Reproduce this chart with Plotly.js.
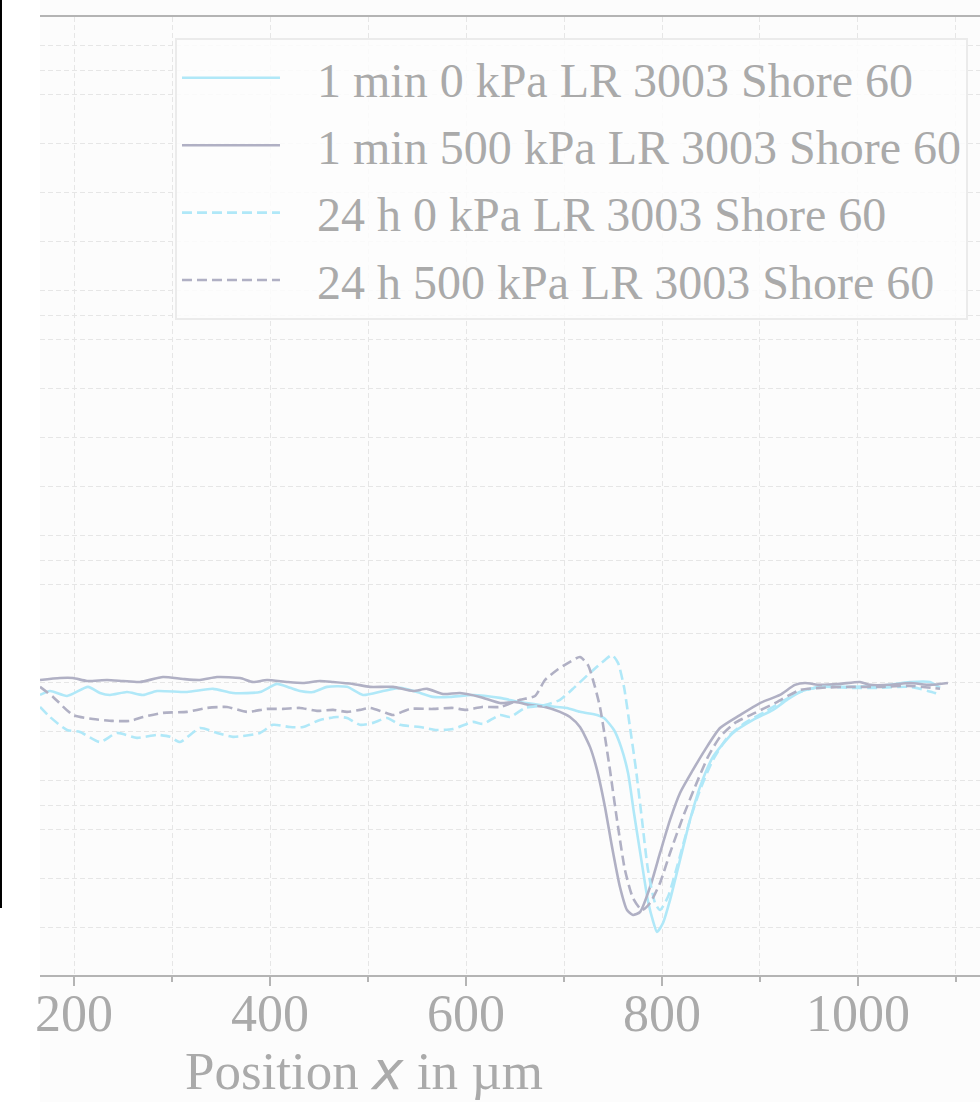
<!DOCTYPE html>
<html>
<head>
<meta charset="utf-8">
<script src="https://cdn.plot.ly/plotly-3.0.1.min.js"></script>
<style>html,body{margin:0;padding:0;background:#fff;}#chart{width:980px;height:1102px;}</style>
</head>
<body>
<div id="chart"></div>
<script>
// Series names
const seriesNames = [
  "1 min 0 kPa LR 3003 Shore 60",
  "1 min 500 kPa LR 3003 Shore 60",
  "24 h 0 kPa LR 3003 Shore 60",
  "24 h 500 kPa LR 3003 Shore 60"
];
const xTickLabels = ["200", "400", "600", "800", "1000"];

// 1 min 0 kPa (solid light blue)
const x1min0 = [165.3,175.5,192.9,214.3,226.5,236.7,254.1,270.4,284.7,315.3,341.8,362.2,389.8,407.1,420.4,430.6,443.9,458.2,478.6,494.9,515.3,532.7,550,566.3,583.7,607.1,634.7,655.1,675.5,692.9,703.1,716.3,733.7,740.8,751,758.2,765.3,771.4,778.6,785.7,790.8,794.9,801,808.2,818.4,828.6,838.8,852,872.4,892.9,913.3,927.6,940.8,961.2,991.8,1022.4,1053.1,1073.5,1083.7];
const y1min0 = [-0.49,-0.33,-0.53,-0.16,-0.41,-0.49,-0.37,-0.49,-0.33,-0.37,-0.24,-0.41,-0.37,-0.04,-0.20,-0.33,-0.37,-0.16,-0.16,-0.49,-0.33,-0.20,-0.37,-0.57,-0.57,-0.49,-0.61,-0.78,-0.90,-0.98,-1.02,-1.18,-1.31,-1.43,-1.92,-2.61,-3.67,-5.31,-7.14,-8.90,-9.71,-10.16,-9.80,-8.86,-7.22,-5.59,-4.24,-3.02,-2.04,-1.51,-1.10,-0.69,-0.37,-0.16,-0.16,-0.12,0.04,0.04,-0.20];

// 1 min 500 kPa (solid grey-blue)
const x1min500 = [165.3,185.7,199,213.3,233.7,250,267.3,290.8,311.2,328.6,345.9,369.4,382.7,396.9,417.3,433.7,451,464.3,484.7,502,525.5,545.9,560.2,576.5,593.9,614.3,634.7,650,665.3,680.6,695.9,706.1,716.3,726.5,733.7,741.8,749,757.1,764.3,770.4,777.6,787.8,798,808.2,818.4,831.6,843.9,859.2,879.6,900,920.4,935.7,945.9,961.2,981.6,1002,1012.2,1032.7,1053.1,1073.5,1091.8];
const y1min500 = [0.12,0.20,0.20,0.08,0.12,0.08,0.04,0.24,0.16,0.12,0.24,0.20,0.04,0.12,0.04,0,0.08,0.04,-0.04,-0.16,-0.16,-0.33,-0.24,-0.45,-0.41,-0.57,-0.82,-0.78,-0.90,-0.98,-1.18,-1.39,-1.80,-2.61,-3.55,-5.06,-6.69,-8.33,-9.27,-9.47,-9.35,-8.33,-6.94,-5.59,-4.49,-3.55,-2.73,-1.84,-1.31,-0.82,-0.49,-0.08,0,-0.08,-0.04,0.04,-0.08,-0.08,0,-0.08,0];

// 24 h 0 kPa (dashed light blue)
const x24h0 = [165.3,175.5,192.9,206.1,226.5,243.9,264.3,284.7,298,308.2,328.6,345.9,362.2,389.8,403.1,420.4,433.7,451,468.4,478.6,491.8,505.1,519.4,532.7,553.1,570.4,586.7,607.1,617.3,634.7,644.9,660.2,680.6,695.9,711.2,726.5,741.8,749,755.1,761.2,767.3,773.5,779.6,785.7,792.9,798,806.1,815.3,828.6,838.8,852,867.3,884.7,905.1,925.5,940.8,961.2,991.8,1022.4,1053.1,1078.6,1083.7];
const y24h0 = [-0.98,-1.39,-1.92,-2.00,-2.41,-2.04,-2.24,-2.12,-2.20,-2.41,-1.84,-2.04,-2.20,-2.04,-1.71,-1.80,-1.80,-1.51,-1.39,-1.43,-1.71,-1.63,-1.43,-1.71,-1.80,-1.92,-1.88,-1.59,-1.67,-1.31,-1.39,-1.02,-0.90,-0.69,-0.16,0.41,0.94,1.14,0.82,-0.16,-1.80,-3.55,-5.59,-7.63,-8.98,-9.27,-8.73,-7.51,-5.59,-4.37,-3.14,-2.20,-1.63,-1.18,-0.69,-0.37,-0.16,-0.20,-0.20,-0.16,-0.41,-0.49];

// 24 h 500 kPa (dashed grey-blue)
const x24h500 = [165.3,178.6,199,219.4,239.8,257.1,270.4,290.8,315.3,335.7,356.1,376.5,396.9,413.3,430.6,448,464.3,478.6,491.8,502,515.3,525.5,542.9,566.3,586.7,600,616.3,634.7,655.1,670.4,680.6,692.9,706.1,716.3,724.5,731.6,736.7,741.8,746.9,754.1,762.2,770.4,779.6,787.8,798,808.2,821.4,833.7,846.9,859.2,874.5,894.9,915.3,940.8,961.2,991.8,1022.4,1053.1,1083.7];
const y24h500 = [-0.16,-0.57,-1.31,-1.47,-1.55,-1.55,-1.39,-1.22,-1.18,-1.02,-0.98,-1.18,-1.06,-1.06,-1.02,-1.14,-1.10,-1.18,-1.10,-1.02,-1.18,-1.31,-1.06,-1.06,-1.02,-1.10,-0.98,-0.98,-0.69,-0.53,0.12,0.53,0.86,1.06,0.73,-0.16,-0.98,-2.20,-3.55,-5.59,-7.63,-8.78,-9.27,-8.98,-8.16,-6.94,-5.47,-4.24,-3.02,-2.20,-1.63,-1.22,-0.82,-0.29,-0.20,-0.16,-0.16,-0.12,-0.24];

const cBlue = "#b0e8f8";
const cGrey = "#b0b0c4";
const txt = "#aaaaaa";
const grid = "#e6e6e6";
const serif = "Liberation Serif, Times New Roman, serif";
const pad = "\u2002\u2006";

function tr(x, y, name, color, dash, grp) {
  return {
    x: x, y: y, name: pad + name, type: "scatter", mode: "lines",
    legendgroup: grp,
    line: {color: color, width: 2.6, dash: dash, shape: "spline", smoothing: 0.6}
  };
}

const data = [
  tr(x1min0, y1min0, seriesNames[0], cBlue, "solid", "a"),
  tr(x1min500, y1min500, seriesNames[1], cGrey, "solid", "b"),
  tr(x24h0, y24h0, seriesNames[2], cBlue, "10px,5px", "c"),
  tr(x24h500, y24h500, seriesNames[3], cGrey, "10px,5px", "d")
];

const layout = {
  width: 980, height: 1102,
  margin: {l: 40, r: 0, t: 17, b: 127, pad: 0},
  paper_bgcolor: "#fcfcfc",
  plot_bgcolor: "#fcfcfc",
  showlegend: true,
  font: {family: serif, color: txt, size: 48},
  xaxis: {
    range: [165.3, 1124.5],
    tickmode: "array",
    tickvals: xTickLabels.map(Number),
    ticktext: xTickLabels,
    ticks: "outside", ticklen: 9, tickwidth: 1.5, tickcolor: "#b4b4b4",
    ticklabelstandoff: -17,
    tickfont: {family: serif, size: 52, color: txt},
    showline: true, linecolor: "#b4b4b4", linewidth: 2, mirror: true,
    showgrid: true, gridcolor: grid, gridwidth: 1, griddash: "5px,3px",
    zeroline: false,
    minor: {dtick: 100, tick0: 0, ticks: "outside", ticklen: 5, tickcolor: "#b4b4b4",
            showgrid: true, gridcolor: grid, gridwidth: 1, griddash: "5px,3px"}
  },
  yaxis: {
    range: [-11.92, 27.18],
    tick0: 0, dtick: 5,
    showticklabels: false, ticks: "",
    showline: false, zeroline: false,
    showgrid: true, gridcolor: grid, gridwidth: 1, griddash: "5px,3px",
    minor: {dtick: 2, tick0: 0, showgrid: true, gridcolor: grid, gridwidth: 1, griddash: "5px,3px"}
  },
  legend: {
    x: 0.1436, y: 0.978, xanchor: "left", yanchor: "top",
    bgcolor: "rgba(253,253,253,0.85)", bordercolor: "#ebebeb", borderwidth: 2,
    font: {family: serif, size: 48, color: txt},
    itemwidth: 98, tracegroupgap: 2
  },
  annotations: [{
    text: 'Position <span style="font-family:DejaVu Sans;font-style:italic">x</span> in µm',
    xref: "x", yref: "paper", x: 495.9, y: -0.1,
    xanchor: "center", yanchor: "middle", showarrow: false,
    font: {family: serif, size: 53, color: txt}
  }],
  shapes: [
    {type: "rect", xref: "paper", yref: "paper", x0: -0.06, x1: 0, y0: -0.2, y1: 1.05,
     fillcolor: "#ffffff", line: {width: 0}, layer: "below"},
    {type: "line", xref: "paper", yref: "paper", x0: -0.0415, x1: -0.0415, y0: 0.0699, y1: 1.05,
     line: {color: "#000000", width: 2}}
  ]
};

Plotly.newPlot("chart", data, layout, {displayModeBar: false, staticPlot: true});
</script>
</body>
</html>
